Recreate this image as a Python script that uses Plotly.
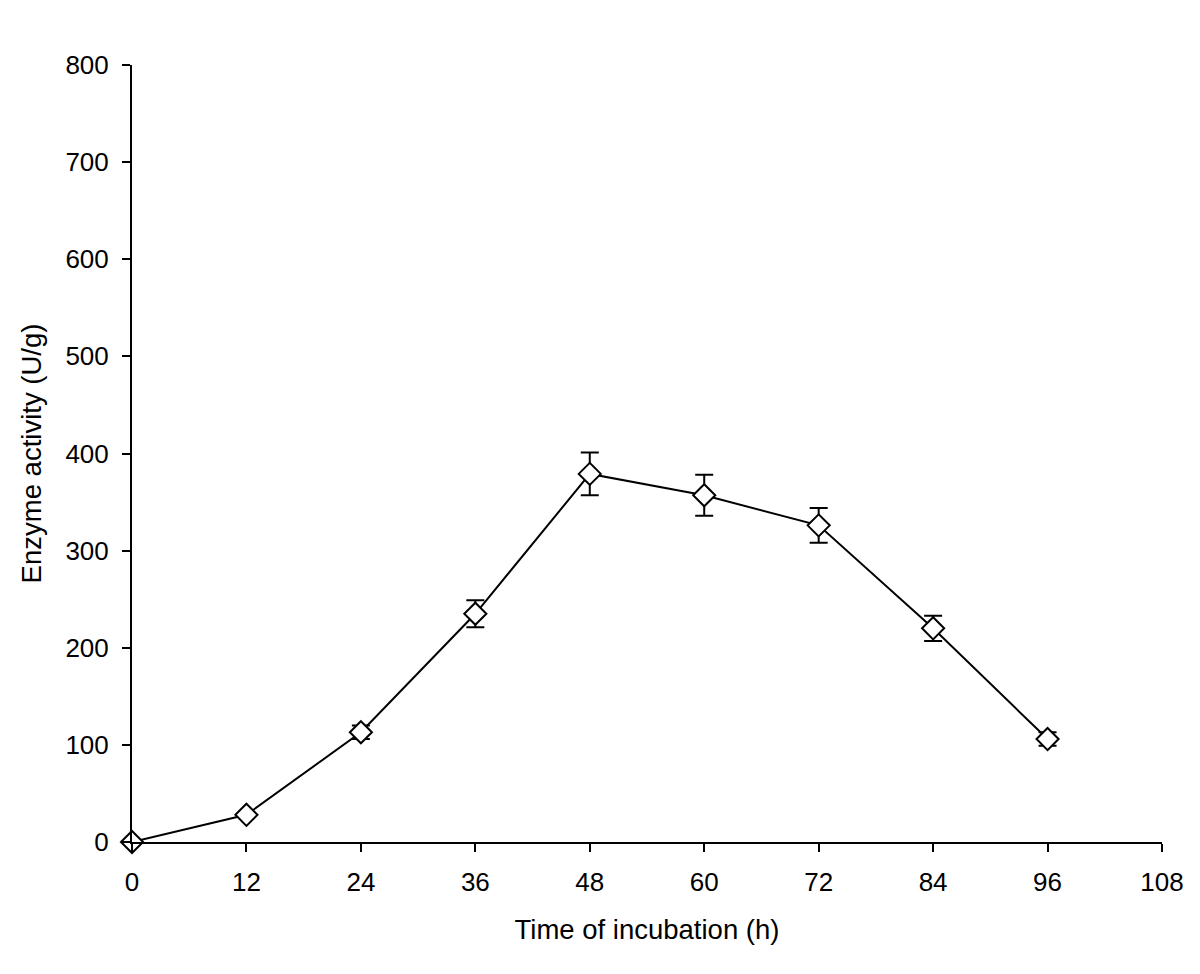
import plotly.graph_objects as go

time_h = [0, 12, 24, 36, 48, 60, 72, 84, 96]
activity = [0, 28, 113, 235, 379, 357, 326, 220, 106]
err = [0, 2, 7, 14, 22, 21, 18, 13, 7]
x_ticks = [0, 12, 24, 36, 48, 60, 72, 84, 96, 108]

fig = go.Figure()
fig.add_trace(go.Scatter(
    x=time_h, y=activity, mode="lines+markers",
    line=dict(color="black", width=2),
    marker=dict(symbol="diamond", size=17, color="white", line=dict(color="black", width=2)),
    error_y=dict(type="data", array=err, visible=True, color="black", thickness=2, width=9),
    cliponaxis=False,
))
font = dict(family="Liberation Sans, Arial, sans-serif", size=26, color="black")
tfont = dict(family="Liberation Sans, Arial, sans-serif", size=27.5, color="black")
fig.update_layout(
    width=1200, height=974,
    margin=dict(l=124, r=46, t=57, b=140),
    paper_bgcolor="white", plot_bgcolor="white",
    showlegend=False,
    font=font,
)
fig.update_xaxes(
    range=[0, 108], tickvals=x_ticks, ticks="outside", ticklen=8, tickwidth=2,
    tickcolor="black", showline=True, linecolor="black", linewidth=2,
    showgrid=False, zeroline=False, tickfont=font, ticklabelstandoff=8,
    title=dict(text="Time of incubation (h)", font=tfont, standoff=24),
)
fig.update_yaxes(
    range=[0, 800], dtick=100, ticks="outside", ticklen=8, tickwidth=2,
    tickcolor="black", showline=True, linecolor="black", linewidth=2,
    showgrid=False, zeroline=False, tickfont=font, ticklabelstandoff=8,
    title=dict(text="Enzyme activity (U/g)", font=tfont, standoff=16),
)
fig.write_html("out.html")
